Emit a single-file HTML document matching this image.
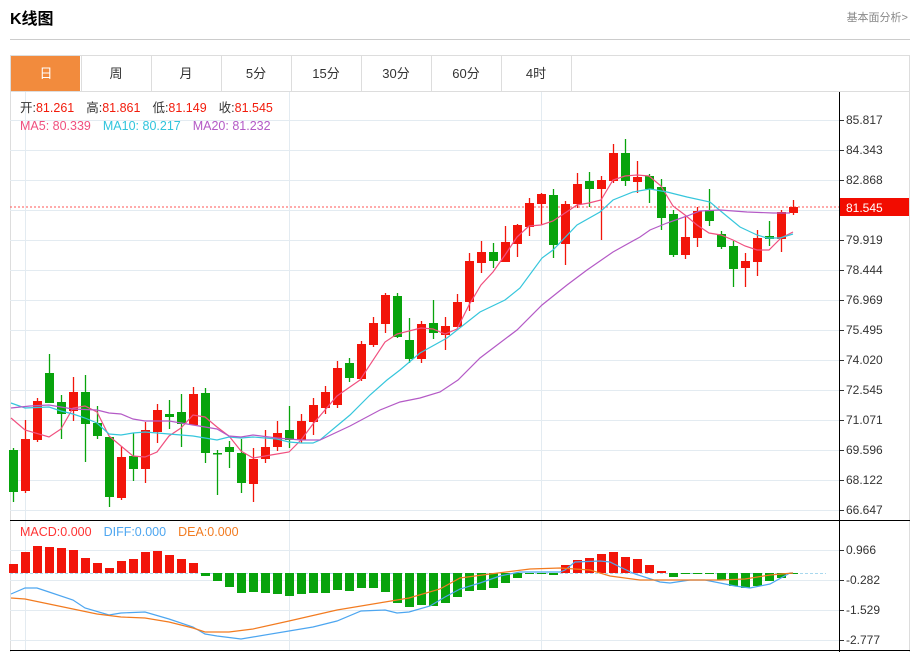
<!DOCTYPE html>
<html><head><meta charset="utf-8"><style>
body{margin:0;background:#fff;width:918px;height:652px;overflow:hidden;font-family:"Liberation Sans","Noto Sans CJK SC",sans-serif}
</style></head><body>
<svg id="s" width="918" height="652" xmlns="http://www.w3.org/2000/svg" font-family="Liberation Sans, Noto Sans CJK SC, sans-serif">
<text x="10" y="24" font-size="16" font-weight="bold" fill="#000">K线图</text>
<text x="908" y="21" font-size="11" fill="#888" text-anchor="end">基本面分析&gt;</text>
<line x1="10" y1="39.5" x2="910" y2="39.5" stroke="#ccc"/>
<rect x="10.5" y="55.5" width="899" height="597" fill="none" stroke="#ddd"/>
<line x1="10" y1="91.5" x2="910" y2="91.5" stroke="#ddd"/>
<rect x="11" y="56" width="69" height="35" fill="#f28b3d"/>
<g id="tabs" font-size="13" fill="#333" text-anchor="middle"></g>
<g id="grid" stroke="#e3ebf1" stroke-width="1"></g>
<line x1="10" y1="520.5" x2="910" y2="520.5" stroke="#000"/>
<line x1="10" y1="650.5" x2="910" y2="650.5" stroke="#000"/>
<line x1="839.5" y1="92" x2="839.5" y2="652" stroke="#000"/>
<g id="ax" font-size="12" fill="#333"></g>
<line x1="10" y1="207" x2="839" y2="207" stroke="#f55" stroke-dasharray="2,2"/>
<rect x="840" y="198" width="69" height="18" fill="#f20c00"/>
<text x="846" y="212" font-size="12" fill="#fff">81.545</text>
<line x1="10" y1="573.5" x2="826" y2="573.5" stroke="#a8d8ee" stroke-dasharray="3,2"/>
<g id="c"></g>
<g id="l" fill="none" stroke-width="1.2"></g>
<text x="20" y="112" font-size="12.5" fill="#333">开:<tspan fill="#f21c0c">81.261</tspan><tspan dx="12">高:</tspan><tspan fill="#f21c0c">81.861</tspan><tspan dx="12">低:</tspan><tspan fill="#f21c0c">81.149</tspan><tspan dx="12">收:</tspan><tspan fill="#f21c0c">81.545</tspan></text>
<text x="20" y="130" font-size="12.5"><tspan fill="#f0507f">MA5: 80.339</tspan><tspan dx="12" fill="#30c4dc">MA10: 80.217</tspan><tspan dx="12" fill="#b45ac6">MA20: 81.232</tspan></text>
<text x="20" y="536" font-size="12.5"><tspan fill="#f33">MACD:0.000</tspan><tspan dx="12" fill="#4da6f0">DIFF:0.000</tspan><tspan dx="12" fill="#f27b20">DEA:0.000</tspan></text>
</svg>
<script>
var NS="http://www.w3.org/2000/svg";
function el(p,t,a,txt){var e=document.createElementNS(NS,t);for(var k in a)e.setAttribute(k,a[k]);if(txt)e.textContent=txt;document.getElementById(p).appendChild(e);return e;}
var tabs=["日","周","月","5分","15分","30分","60分","4时"];
tabs.forEach(function(t,i){var x=11+i*70;if(i>0)el("tabs","line",{x1:x+.5,y1:56,x2:x+.5,y2:91,stroke:"#ddd"});
el("tabs","text",{x:x+35,y:78,fill:i==0?"#fff":"#333"},t);});
el("tabs","line",{x1:571.5,y1:56,x2:571.5,y2:91,stroke:"#ddd"});
var lab=["85.817","84.343","82.868","81.394","79.919","78.444","76.969","75.495","74.020","72.545","71.071","69.596","68.122","66.647"];
for(var i=0;i<14;i++){var y=120+i*30;el("grid","line",{x1:10,y1:y+.5,x2:839,y2:y+.5});el("ax","line",{x1:840,y1:y+.5,x2:844,y2:y+.5,stroke:"#333"});
if(i!=3)el("ax","text",{x:846,y:y+4},lab[i]);}
var ml=["0.966","-0.282","-1.529","-2.777"];
for(var i=0;i<4;i++){var y=550+i*30;el("grid","line",{x1:10,y1:y+.5,x2:839,y2:y+.5});el("ax","line",{x1:840,y1:y+.5,x2:844,y2:y+.5,stroke:"#333"});el("ax","text",{x:846,y:y+4},ml[i]);}
[25.5,289.5,541.5].forEach(function(x){el("grid","line",{x1:x,y1:92,x2:x,y2:650});});
var C=[["g",450,492,448,502],["r",439,491,420,493],["r",401,440,398,442],["g",373,403,354,403],["g",402,414,395,439],["r",392,411,377,421],["g",392,424,375,462],["g",423,436,406,439],["g",437,497,437,507],["r",457,498,446,500],["g",456,469,433,481],["r",430,469,422,483],["r",410,432,404,443],["g",414,417,400,429],["g",412,424,394,447],["r",394,425,387,425],["g",393,453,388,463],["g",453,454,450,495],["g",447,452,441,468],["g",453,483,439,493],["r",459,484,448,502],["r",447,459,430,463],["r",433,447,421,451],["g",430,440,406,448],["r",421,440,414,443],["r",405,422,398,435],["r",392,408,386,414],["r",368,405,361,408],["g",363,378,358,382],["r",344,379,341,381],["r",323,345,317,347],["r",295,324,293,333],["g",296,337,293,338],["g",340,359,318,363],["r",324,359,321,363],["g",323,333,300,339],["r",326,335,317,350],["r",302,327,294,327],["r",261,302,253,311],["r",252,263,241,273],["g",252,261,243,268],["r",242,262,226,262],["r",225,244,224,257],["r",203,227,198,236],["r",194,204,193,225],["g",195,245,189,258],["r",204,244,201,265],["r",184,204,173,208],["g",181,189,172,207],["r",180,189,176,240],["r",153,181,144,183],["g",153,181,139,186],["r",177,182,161,193],["g",176,189,174,203],["g",187,218,179,230],["g",214,255,210,257],["r",237,255,216,259],["r",211,238,207,247],["g",210,221,189,226],["g",234,247,231,249],["g",246,269,241,287],["r",261,268,253,287],["r",238,262,230,276],["g",236,239,221,246],["r",212,239,210,252],["r",207,213,200,215]];
var RED="#f2150a",GRN="#08a30c";
C.forEach(function(c,i){var x=13.5+i*12,col=c[0]=="r"?RED:GRN;
el("c","line",{x1:x,y1:c[3],x2:x,y2:c[4],stroke:col,"stroke-width":1.3});
el("c","rect",{x:x-4.5,y:c[1],width:9,height:Math.max(1.5,c[2]-c[1]),fill:col});});
var H=[564,552,546,547,548,550,558,563,568,561,559,552,551,555,559,563,576,581,587,593,592,593,594,596,594,593,593,590,591,588,588,592,603,607,605,606,603,597,591,590,588,583,578,574,574,575,565,560,558,554,552,557,559,565,571,577,574,574,574,580,586,588,586,581,578,574];
H.forEach(function(y,i){var x=13.5+i*12;var t=Math.min(y,573),h=Math.abs(y-573);if(h<1)h=1;
el("c","rect",{x:x-4.5,y:t,width:9,height:h,fill:y<573?RED:GRN});});
function pl(pts,col){el("l","polyline",{points:pts,stroke:col});}
pl("11,418 25,430 49,437 61,429 73,408 85,406 97,412 109,436 121,446 133,456 145,457 157,452 169,436 181,428 193,415 205,417 217,427 229,436 241,451 253,458 265,456 277,454 289,452 301,440 313,424 337,396 360,380 385,342 397,334 409,331 421,328 433,329 445,334 457,329 469,305 481,285 493,272 505,255 517,237 529,226 541,225 553,221 565,213 577,205 589,203 601,200 613,180 625,176 637,175 649,176 661,186 673,206 685,215 697,225 709,233 721,235 733,240 745,246 757,250 769,250 781,238 793,232","#f0507f");
pl("11,403 25,408 49,407 61,411 73,414 85,418 97,423 109,434 121,435 133,433 145,432 157,433 169,434 181,435 193,436 205,438 217,440 229,437 241,438 253,437 265,438 277,439 289,442 301,443 313,443 320,440 350,415 370,395 387,380 400,370 420,353 447,338 480,312 505,300 520,288 542,258 553,250 577,225 600,212 613,200 633,192 650,189 667,192 687,197 710,202 723,213 740,227 757,235 767,238 780,238 793,234","#36c6dc");
pl("11,408 30,406 49,405 73,409 97,410 109,413 121,414 133,419 145,421 169,421 193,425 217,429 229,436 241,437 253,435 277,438 301,440 320,440 350,426 380,410 400,402 420,398 440,392 458,380 480,358 517,330 542,305 567,285 587,270 613,252 640,237 650,230 667,223 687,216 700,211 720,210 747,212 773,213 790,213","#b45ac6");
pl("11,594 25,588 37,588 49,592 73,600 85,608 109,615 121,613 145,612 169,619 193,627 205,634 217,636 241,639 253,637 289,631 313,627 337,621 361,611 385,610 397,613 409,612 430,606 445,597 460,589 480,583 500,576 520,572 560,572 565,570 575,562 600,561 610,562 620,567 635,574 660,582 670,583 690,580 705,580 720,583 735,586 750,588 770,584 790,573 793,573","#4da6f0");
pl("11,598 25,599 49,604 73,609 97,614 121,617 145,618 169,622 193,628 205,632 229,632 253,629 289,621 337,610 385,602 409,598 440,589 460,578 490,574 530,569 560,568 590,570 610,576 640,580 670,580 700,580 720,580 745,579 770,575 793,573","#f27b20");
</script>
</body></html>
